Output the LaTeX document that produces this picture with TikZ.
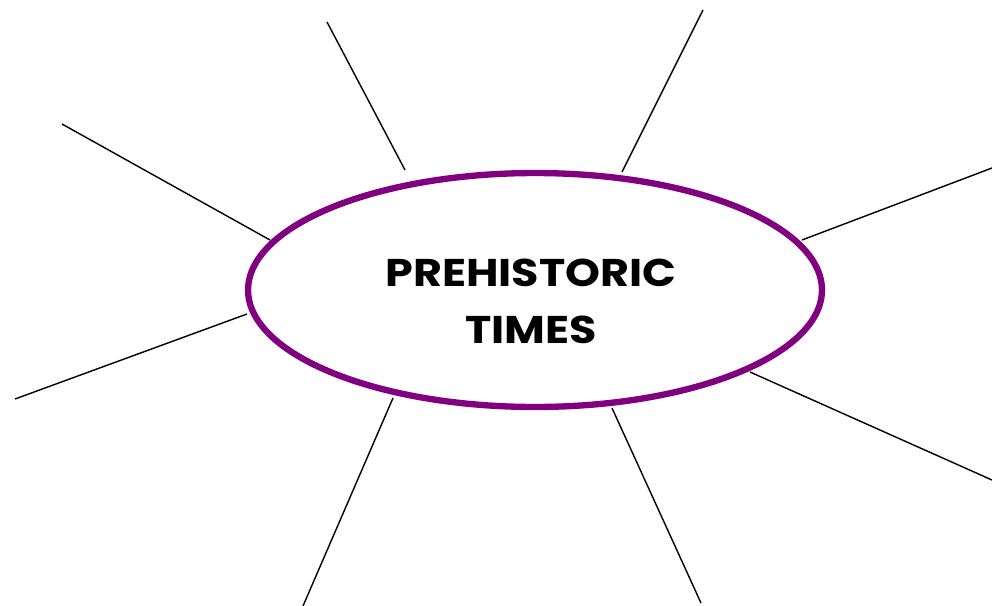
\documentclass[tikz,border=0pt]{standalone}
\usetikzlibrary{shapes.geometric}
\usepackage{fontspec}
\setmainfont[FakeStretch=1.15]{Poppins}
\definecolor{prehpurple}{HTML}{800080}

\begin{document}
\begin{tikzpicture}[x=0.02cm,y=-0.02cm]
  \useasboundingbox (0,0) rectangle (992,606);
  \tikzset{spoke/.style={draw=black,line width=0.8pt}}
  \node[ellipse,draw=prehpurple,line width=3.6pt,minimum width=11.48cm,
        minimum height=4.68cm,inner sep=0pt] (topic) at (535,290) {};
  \node[align=center,inner sep=0pt,
        font=\fontsize{22}{32.5}\selectfont\bfseries] (title) at (531,301)
        {PREHISTORIC\\TIMES};
  % outer ends of the spokes
  \coordinate (o1) at (327,22);
  \coordinate (o2) at (703,10);
  \coordinate (o3) at (62,124);
  \coordinate (o4) at (992,168);
  \coordinate (o5) at (15,399);
  \coordinate (o6) at (992,480);
  \coordinate (o7) at (303,606);
  \coordinate (o8) at (701,603);
  % where they meet the ellipse
  \coordinate (i1) at (405,170);
  \coordinate (i2) at (622,172);
  \coordinate (i3) at (270,240);
  \coordinate (i4) at (802,240);
  \coordinate (i5) at (247,314);
  \coordinate (i6) at (750,372);
  \coordinate (i7) at (393,398);
  \coordinate (i8) at (612,408);
  \foreach \n in {1,...,8}
    \draw[spoke] (o\n) -- (i\n);
\end{tikzpicture}
\end{document}
